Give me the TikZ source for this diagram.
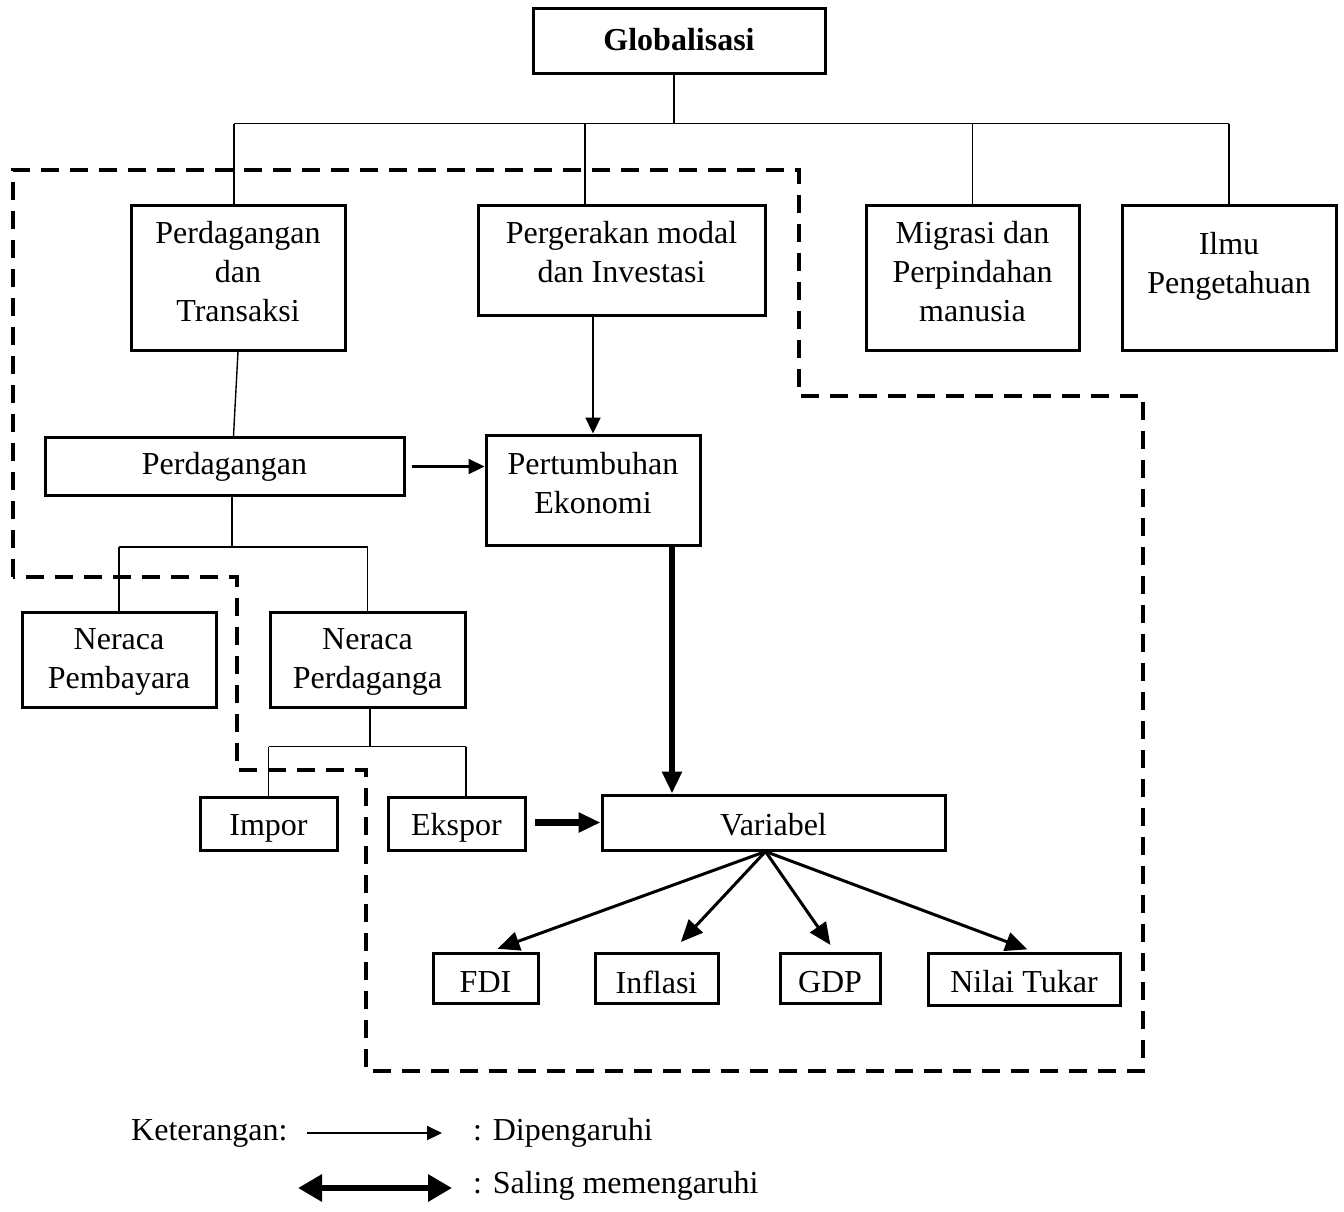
\documentclass[tikz,border=0pt]{standalone}
\usepackage{fontspec}
\setmainfont{Liberation Serif}
\usetikzlibrary{arrows.meta,calc}
\begin{document}
\begin{tikzpicture}[x=1pt,y=-1pt,
  font=\fontsize{32}{39}\selectfont,
  box/.style={draw,line width=3pt,inner sep=0pt},
  txt/.style={align=center,inner sep=0pt},
  conn/.style={line width=1.4pt},
  arr/.style={line width=2.2pt,-{Triangle[length=16pt,width=15pt]}},
  varr/.style={line width=3pt,-{Triangle[length=22pt,width=19pt]}},
  thickarr/.style={line width=5.5pt,-{Triangle[length=22pt,width=19pt]}},
  dasharea/.style={line width=4pt,dash pattern=on 18pt off 11pt}]
\useasboundingbox (0,0) rectangle (1344,1211);

% boxes
\node[box,minimum width=292,minimum height=65] (glob) at (679,40.5) {};
\node[txt,font=\fontsize{32}{39}\selectfont\bfseries] (glob-t) at (679,40) {Globalisasi};

\node[box,minimum width=214,minimum height=145] (pdt) at (238,277.5) {};
\node[txt] (pdt-t) at (238,272) {Perdagangan\\dan\\Transaksi};

\node[box,minimum width=287,minimum height=110] (pmi) at (621.5,260) {};
\node[txt] (pmi-t) at (621.5,252.5) {Pergerakan modal\\dan Investasi};

\node[box,minimum width=213,minimum height=145] (migr) at (972.5,277.5) {};
\node[txt] (migr-t) at (972.5,272) {Migrasi dan\\Perpindahan\\manusia};

\node[box,minimum width=214,minimum height=145] (ilmu) at (1229,277.5) {};
\node[txt] (ilmu-t) at (1229,266.5) {Ilmu\\Pengetahuan};

\node[box,minimum width=359,minimum height=58] (perd) at (224.5,466.5) {};
\node[txt] (perd-t) at (224.5,467) {Perdagangan};

\node[box,minimum width=214,minimum height=110] (pert) at (593,490) {};
\node[txt] (pert-t) at (593,483) {Pertumbuhan\\Ekonomi};

\node[box,minimum width=194,minimum height=95] (np1) at (119,659.5) {};
\node[txt] (np1-t) at (119,662) {Neraca\\Pembayara};

\node[box,minimum width=195,minimum height=95] (np2) at (367.5,659.5) {};
\node[txt] (np2-t) at (367.5,662) {Neraca\\Perdaganga};

\node[box,minimum width=137,minimum height=53] (impor) at (268.5,823.5) {};
\node[txt] (impor-t) at (268.5,828) {Impor};

\node[box,minimum width=137,minimum height=53] (ekspor) at (456.5,823.5) {};
\node[txt] (ekspor-t) at (456.5,828) {Ekspor};

\node[box,minimum width=343,minimum height=55] (var) at (773.5,822.5) {};
\node[txt] (var-t) at (773.5,825) {Variabel};

\node[box,minimum width=105,minimum height=50] (fdi) at (485.5,978) {};
\node[txt] (fdi-t) at (485.5,982) {FDI};
\node[box,minimum width=123,minimum height=50] (infl) at (656.5,978) {};
\node[txt] (infl-t) at (656.5,982) {Inflasi};
\node[box,minimum width=100,minimum height=50] (gdp) at (830,978) {};
\node[txt] (gdp-t) at (830,982) {GDP};
\node[box,minimum width=192,minimum height=52] (nt) at (1024,979) {};
\node[txt] (nt-t) at (1024,982) {Nilai Tukar};

% top tree
\coordinate (j0) at ($(glob.south)+(-5,49)$);
\draw[conn] ([xshift=-5]glob.south) -- (j0);
\coordinate (d1) at ([xshift=-4]pdt.north);
\coordinate (d2) at ([xshift=-36.5]pmi.north);
\draw[conn] (d1 |- j0) -- (ilmu.north |- j0);
\draw[conn] (d1 |- j0) -- (d1);
\draw[conn] (d2 |- j0) -- (d2);
\draw[conn] (migr.north |- j0) -- (migr.north);
\draw[conn] (ilmu.north |- j0) -- (ilmu.north);

% pdt to perd
\draw[conn] (pdt.south) -- ([xshift=9]perd.north);

% pmi -> pert
\draw[arr] (pmi.south -| pert.north) -- (pert.north);

% perd -> pert
\draw[arr,shorten <=6pt] (perd.east) -- (perd.east -| pert.west);

% pert -> var thick
\coordinate (c1) at ([xshift=79,yshift=3]pert.south);
\draw[thickarr] (c1) -- (c1 |- var.north);

% perd subtree
\coordinate (p0) at ([xshift=7.5]perd.south);
\coordinate (p1) at ($(p0)+(0,50)$);
\draw[conn] (p0) -- (p1);
\draw[conn] (np1.north |- p1) -- (np2.north |- p1);
\draw[conn] (np1.north |- p1) -- (np1.north);
\draw[conn] (np2.north |- p1) -- (np2.north);

% np2 subtree
\coordinate (q0) at ([xshift=2.5]np2.south);
\coordinate (q1) at ($(q0)+(0,38)$);
\coordinate (e0) at ([xshift=9.5]ekspor.north);
\draw[conn] (q0) -- (q1);
\draw[conn] (impor.north |- q1) -- (e0 |- q1);
\draw[conn] (impor.north |- q1) -- (impor.north);
\draw[conn] (e0 |- q1) -- (e0);

% ekspor -> var
\draw[thickarr,line width=6.5pt,shorten <=8pt] (ekspor.east |- var.west) -- (var.west);

% var -> outputs
\coordinate (v0) at ([xshift=-8]var.south);
\draw[varr,shorten >=8pt] (v0) -- ([xshift=4.5]fdi.north);
\draw[varr,shorten >=13pt] (v0) -- ([xshift=15.5]infl.north);
\draw[varr,shorten >=8pt] (v0) -- ([xshift=5]gdp.north);
\draw[varr,shorten >=6pt] (v0) -- ([xshift=9]nt.north);

% dashed area
\draw[dasharea] (13,577) -- (13,170) -- (799,170) -- (799,396) -- (1143,396)
  -- (1143,1071) -- (366,1071) -- (366,770) -- (237,770) -- (237,577) -- cycle;

% legend
\node[txt,anchor=west] (ket) at (131,1133) {Keterangan:};
\coordinate (l1a) at (307,1133);
\coordinate (l1b) at (442,1133);
\draw[line width=2pt,-{Triangle[length=15pt,width=14pt]}] (l1a) -- (l1b);
\node[txt,anchor=west] (dip) at (473,1133) {: Dipengaruhi};
\coordinate (l2a) at (298,1188);
\coordinate (l2b) at (452,1188);
\draw[line width=6.5pt,{Triangle[length=24pt,width=26pt]}-{Triangle[length=24pt,width=26pt]}] (l2a) -- (l2b);
\node[txt,anchor=west] (sal) at (473,1186) {: Saling memengaruhi};
\end{tikzpicture}
\end{document}
